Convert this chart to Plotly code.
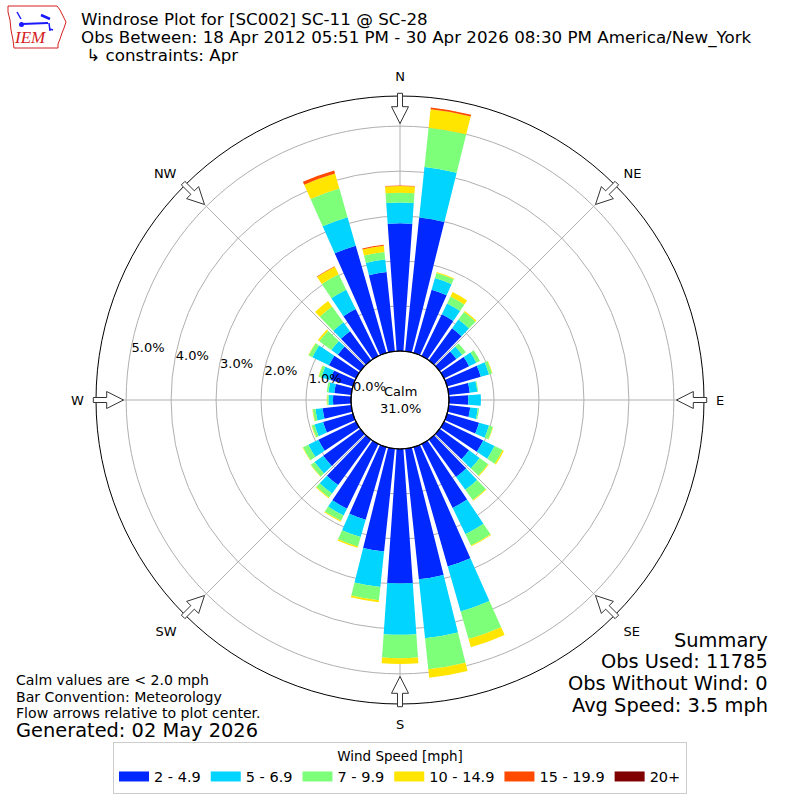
import math
import plotly.graph_objects as go

# ---------------- data ----------------
directions = [0, 10, 20, 30, 40, 50, 60, 70, 80, 90, 100, 110, 120, 130, 140, 150, 160, 170,
              180, 190, 200, 210, 220, 230, 240, 250, 260, 270, 280, 290, 300, 310, 320, 330, 340, 350]

speed_labels = ["2 - 4.9", "5 - 6.9", "7 - 9.9", "10 - 14.9", "15 - 19.9", "20+"]
speed_colors = ["#0028ff", "#00d4ff", "#7dff7a", "#ffe500", "#ff4a00", "#800000"]

# percent of observations in each direction bin, per speed class
pct_2_5 = [2.84, 2.99, 1.46, 1.03, 0.88, 0.46, 0.62, 0.78, 0.47, 0.43, 0.48, 0.74, 0.97, 0.81, 1.03, 1.58, 2.76, 2.92,
           2.99, 2.30, 1.68, 1.60, 1.25, 1.02, 0.93, 0.69, 0.64, 0.40, 0.38, 0.52, 0.67, 0.62, 0.80, 1.16, 2.48, 1.77]
pct_5_7 = [0.46, 1.13, 0.27, 0.27, 0.24, 0.16, 0.18, 0.19, 0.17, 0.28, 0.17, 0.23, 0.28, 0.29, 0.35, 0.65, 1.04, 1.32,
           1.14, 0.79, 0.40, 0.17, 0.23, 0.24, 0.25, 0.20, 0.16, 0.10, 0.13, 0.21, 0.41, 0.18, 0.25, 0.48, 0.66, 0.28]
pct_7_10 = [0.22, 0.88, 0.12, 0.17, 0.21, 0.10, 0.09, 0.07, 0.02, 0.00, 0.03, 0.09, 0.20, 0.23, 0.28, 0.28, 0.64, 0.69,
            0.52, 0.30, 0.22, 0.13, 0.11, 0.10, 0.13, 0.06, 0.06, 0.03, 0.04, 0.06, 0.09, 0.33, 0.43, 0.38, 0.66, 0.17]
pct_10_15 = [0.15, 0.41, 0.02, 0.11, 0.03, 0.00, 0.00, 0.01, 0.00, 0.00, 0.00, 0.01, 0.03, 0.02, 0.02, 0.02, 0.19, 0.19,
             0.13, 0.04, 0.03, 0.02, 0.02, 0.01, 0.01, 0.01, 0.01, 0.01, 0.00, 0.01, 0.01, 0.04, 0.15, 0.19, 0.35, 0.14]
pct_15_20 = [0.01, 0.04, 0.00, 0.00, 0.00, 0.00, 0.00, 0.00, 0.00, 0.00, 0.00, 0.00, 0.00, 0.00, 0.00, 0.00, 0.00, 0.00,
             0.00, 0.00, 0.00, 0.00, 0.00, 0.00, 0.00, 0.00, 0.00, 0.00, 0.00, 0.00, 0.00, 0.00, 0.00, 0.01, 0.07, 0.02]
pct_20_up = [0.0] * 36

radial_ticks = [0, 1, 2, 3, 4, 5]
radial_ticktext = ["0.0%", "1.0%", "2.0%", "3.0%", "4.0%", "5.0%"]
compass_angles = [0, 45, 90, 135, 180, 225, 270, 315]
compass_labels = ["N", "NE", "E", "SE", "S", "SW", "W", "NW"]

calm_pct = "31.0%"
title_lines = ["Windrose Plot for [SC002] SC-11 @ SC-28",
               "Obs Between: 18 Apr 2012 05:51 PM - 30 Apr 2026 08:30 PM America/New_York",
               " \u21b3 constraints: Apr"]
note_lines = ["Calm values are < 2.0 mph", "Bar Convention: Meteorology",
              "Flow arrows relative to plot center."]
generated = "Generated: 02 May 2026"
summary_lines = ["Summary", "Obs Used: 11785", "Obs Without Wind: 0", "Avg Speed: 3.5 mph"]

series = [pct_2_5, pct_5_7, pct_7_10, pct_10_15, pct_15_20, pct_20_up]

# ---------------- figure ----------------
W = H = 800
FONT = "DejaVu Sans"
CX, CY, R_OUT, R_HOLE = 400, 400, 304, 49
RLABEL_ANGLE = 170


def px2paper(x, y):
    return x / W, 1 - y / H


fig = go.Figure()
for vals, name, col in zip(series, speed_labels, speed_colors):
    fig.add_trace(go.Barpolar(r=vals, theta=directions, width=8, name=name,
                              marker=dict(color=col, line=dict(width=0)),
                              showlegend=False))
    # legend proxy (wide swatch)
    fig.add_trace(go.Scatterpolar(r=[None], theta=[None], mode="lines", name=name,
                                  line=dict(color=col, width=12), showlegend=True))

fig.update_layout(
    width=W, height=H, autosize=False,
    margin=dict(l=0, r=0, t=0, b=0),
    paper_bgcolor="white", plot_bgcolor="white",
    font=dict(family=FONT, size=13, color="black"),
    polar=dict(
        domain=dict(x=[(CX - R_OUT) / W, (CX + R_OUT) / W], y=[(CY - R_OUT) / H, (CY + R_OUT) / H]),
        hole=R_HOLE / R_OUT,
        bgcolor="white",
        barmode="stack",
        angularaxis=dict(rotation=90, direction="clockwise", tickmode="array",
                         tickvals=compass_angles, ticktext=compass_labels,
                         showgrid=True, gridcolor="#b0b0b0", gridwidth=1,
                         showline=True, linecolor="black", linewidth=1,
                         ticks="outside", ticklen=9, tickcolor="rgba(0,0,0,0)",
                         tickfont=dict(size=13), layer="above traces"),
        radialaxis=dict(range=[0, 5.67], tickmode="array", tickvals=radial_ticks,
                        ticktext=radial_ticktext, showgrid=True, gridcolor="#b0b0b0",
                        gridwidth=1, showline=False, ticks="", angle=RLABEL_ANGLE,
                        tickangle=RLABEL_ANGLE, tickfont=dict(size=13), layer="above traces"),
    ),
    legend=dict(orientation="h", x=0.5, xanchor="center", y=1 - 742 / H, yanchor="top",
                bordercolor="#cccccc", borderwidth=1, bgcolor="white",
                title=dict(text="Wind Speed [mph]", side="top center", font=dict(size=13.5)),
                font=dict(size=14.5), itemwidth=30),
)

annotations = []
# title lines
for i, t in enumerate(title_lines):
    x, y = px2paper(79, 19 + i * 18)
    annotations.append(dict(x=x, y=y, xref="paper", yref="paper", text=t, showarrow=False,
                            xanchor="left", yanchor="middle", font=dict(size=16.7)))
# notes bottom-left
for i, t in enumerate(note_lines):
    x, y = px2paper(14, 680 + i * 16.5)
    annotations.append(dict(x=x, y=y, xref="paper", yref="paper", text=t, showarrow=False,
                            xanchor="left", yanchor="middle", font=dict(size=14.1)))
x, y = px2paper(14, 730)
annotations.append(dict(x=x, y=y, xref="paper", yref="paper", text=generated, showarrow=False,
                        xanchor="left", yanchor="middle", font=dict(size=19.4)))
# summary bottom-right
for i, t in enumerate(summary_lines):
    x, y = px2paper(770, 640 + i * 21.7)
    annotations.append(dict(x=x, y=y, xref="paper", yref="paper", text=t, showarrow=False,
                            xanchor="right", yanchor="middle", font=dict(size=19.4)))
# calm
annotations.append(dict(x=0.5, y=0.5, xref="paper", yref="paper", text="Calm<br>" + calm_pct,
                        showarrow=False, xanchor="center", yanchor="middle", font=dict(size=13)))
# logo text
x, y = px2paper(30, 38)
annotations.append(dict(x=x, y=y, xref="paper", yref="paper", text="<i>IEM</i>", showarrow=False,
                        xanchor="center", yanchor="middle",
                        font=dict(size=17, family="Liberation Serif", color="#d42020")))
fig.update_layout(annotations=annotations)

shapes = []
# hole edge
x0, y1 = px2paper(CX - R_HOLE, CY - R_HOLE)
x1, y0 = px2paper(CX + R_HOLE, CY + R_HOLE)
shapes.append(dict(type="circle", xref="paper", yref="paper", x0=x0, x1=x1, y0=y0, y1=y1,
                   line=dict(color="black", width=1.2), layer="above"))

# hollow flow arrows on the outer ring
arrow_local = [(306.7, -2.5), (293.3, -2.5), (293.3, -8.5), (276.5, 0.0),
               (293.3, 8.5), (293.3, 2.5), (306.7, 2.5)]
for ang in compass_angles:
    th = math.radians(ang)
    pts = []
    for rr, ww in arrow_local:
        px = CX + rr * math.sin(th) + ww * math.cos(th)
        py = CY - rr * math.cos(th) + ww * math.sin(th)
        pts.append(px2paper(px, py))
    path = "M " + " L ".join(f"{a:.5f},{b:.5f}" for a, b in pts) + " Z"
    shapes.append(dict(type="path", xref="paper", yref="paper", path=path,
                       fillcolor="white", line=dict(color="#333333", width=1), layer="above"))

# simple IEM logo outline
iowa = [(8, 6), (57, 6), (60, 10), (63, 16), (66, 22), (64, 28), (62, 33), (60, 39), (58, 44),
        (58, 48), (14, 48), (13, 40), (11, 30), (10, 20), (8, 12)]
path = "M " + " L ".join("{:.5f},{:.5f}".format(*px2paper(a, b)) for a, b in iowa) + " Z"
shapes.append(dict(type="path", xref="paper", yref="paper", path=path,
                   line=dict(color="#d42020", width=1)))
for (a, b, c, d, w) in [(22, 24, 48, 23, 2), (17, 12, 21, 19, 1.5), (41, 15, 50, 19, 2.5),
                        (49, 23, 50, 31, 1.5), (50, 29, 53, 30, 1.5)]:
    xa, ya = px2paper(a, b)
    xb, yb = px2paper(c, d)
    shapes.append(dict(type="line", xref="paper", yref="paper", x0=xa, y0=ya, x1=xb, y1=yb,
                       line=dict(color="#1a1aff", width=w)))
xa, ya = px2paper(19, 22)
xb, yb = px2paper(24, 27)
shapes.append(dict(type="circle", xref="paper", yref="paper", x0=xa, y0=yb, x1=xb, y1=ya,
                   fillcolor="#1a1aff", line=dict(width=0)))
fig.update_layout(shapes=shapes)

fig.write_html("out.html", config={"displayModeBar": False},
               post_script="document.body.style.margin='0';")
